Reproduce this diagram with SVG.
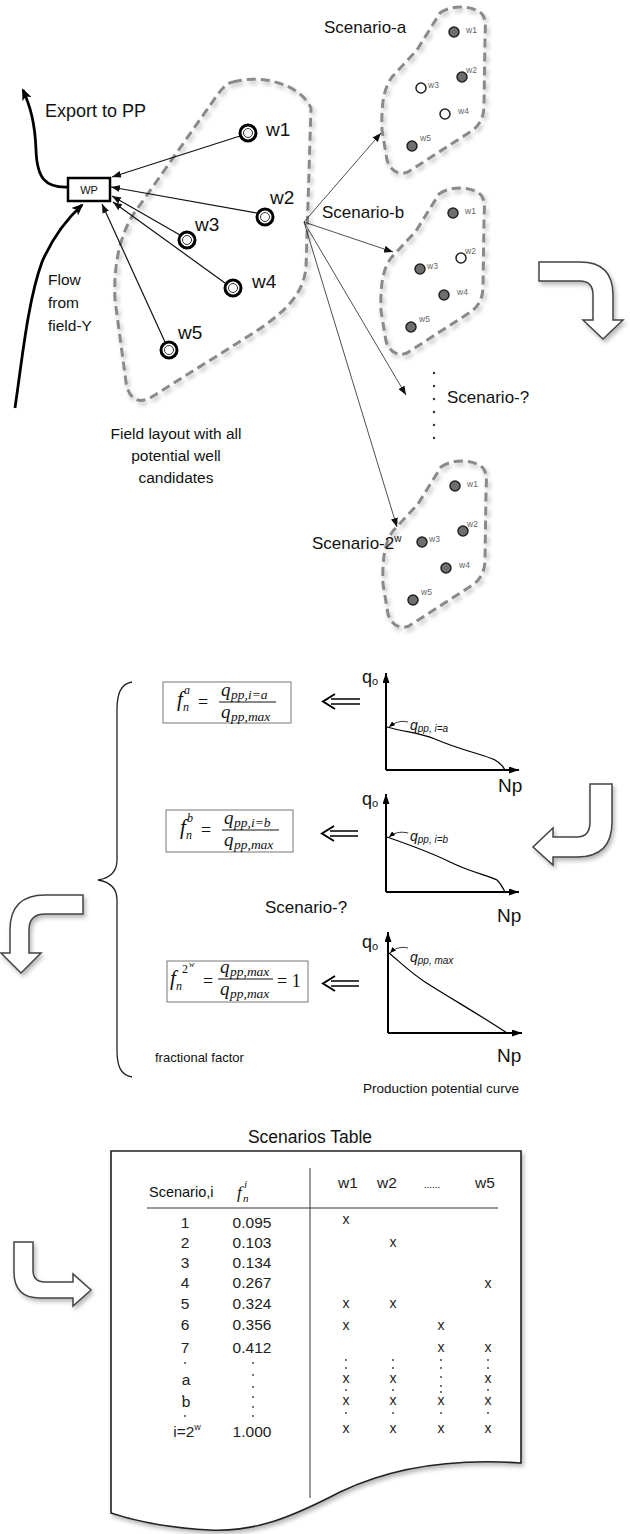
<svg xmlns="http://www.w3.org/2000/svg" width="630" height="1534" viewBox="0 0 630 1534">
<style>
.s{font-family:"Liberation Sans",Arial,sans-serif;fill:#111}
.m{font-family:"Liberation Serif","Times New Roman",serif;font-style:italic;fill:#111}
.r{font-family:"Liberation Serif","Times New Roman",serif;fill:#111}
.blob{fill:none;stroke:#8a8a8a;stroke-width:3;stroke-dasharray:9 5;filter:url(#sh)}
.wl{font-family:"Liberation Sans",Arial,sans-serif;font-size:8.5px;fill:#666}
.wf{fill:#6e6e6e;stroke:#222;stroke-width:1.5}
.wo{fill:#fff;stroke:#222;stroke-width:1.5}
.thin{fill:none;stroke:#222;stroke-width:0.8;marker-end:url(#ah)}
.wline{fill:none;stroke:#111;stroke-width:1.2;marker-end:url(#ah)}
.thick{fill:none;stroke:#000;stroke-width:2.8;marker-end:url(#ahk)}
.barr{fill:#fff;stroke:#444;stroke-width:1.5;filter:url(#sh)}
.fbox{fill:#fff;stroke:#777;stroke-width:1}
.ax{fill:none;stroke:#000;stroke-width:2;marker-end:url(#ax)}
.cv{fill:none;stroke:#000;stroke-width:1.2}
.ld{fill:none;stroke:#000;stroke-width:0.8;marker-end:url(#sm)}
.t{font-family:"Liberation Sans",Arial,sans-serif;font-size:15.5px;fill:#222;text-anchor:middle}
.x{font-family:"Liberation Sans",Arial,sans-serif;font-size:14px;fill:#222;text-anchor:middle}
.dot{fill:#333}
</style>
<defs>
<filter id="sh" x="-15%" y="-15%" width="140%" height="140%">
<feDropShadow dx="2" dy="3" stdDeviation="2" flood-color="#000" flood-opacity="0.28"/>
</filter>
<marker id="ah" markerUnits="userSpaceOnUse" markerWidth="9" markerHeight="7" refX="9" refY="3.5" orient="auto"><path d="M0,0 L9,3.5 L0,7 Z" fill="#111"/></marker>
<marker id="ahk" markerUnits="userSpaceOnUse" markerWidth="12" markerHeight="10" refX="10" refY="5" orient="auto"><path d="M0,0 L12,5 L0,10 L3,5 Z" fill="#000"/></marker>
<marker id="ax" markerUnits="userSpaceOnUse" markerWidth="10" markerHeight="7" refX="10" refY="3.5" orient="auto"><path d="M0,0 L10,3.5 L0,7 Z" fill="#000"/></marker>
<marker id="sm" markerUnits="userSpaceOnUse" markerWidth="6" markerHeight="5" refX="6" refY="2.5" orient="auto"><path d="M0,0 L6,2.5 L0,5 Z" fill="#000"/></marker>
<path id="sblob" d="M440,13 C448,6 472,4 482,14 C487,20 485,30 485,40 L484,108 C483,120 478,127 470,132 L408,172 C398,176 390,170 387,160 L382,130 C381,100 385,87 392,77 L417,50 Z"/>
</defs>

<g id="field">
<path class="blob" d="M233,82 C262,74 300,84 311,108 L306,268 C303,295 285,312 255,332 L150,398 C136,405 128,396 126,382 L115,300 C113,255 124,225 140,205 L218,94 C224,86 228,83 233,82 Z"/>
</g>

<g id="connectors">
<path class="thick" d="M68,187 C45,188 37,178 36,150 C35,122 30,106 23,90"/>
<path class="thick" d="M15,408 C22,360 28,300 42,262 C55,232 70,216 82,205"/>
<line class="wline" x1="240" y1="136" x2="112" y2="177"/>
<line class="wline" x1="257" y1="213" x2="111" y2="187"/>
<line class="wline" x1="180" y1="235" x2="112" y2="196"/>
<line class="wline" x1="225" y1="283" x2="113" y2="202"/>
<line class="wline" x1="165" y1="342" x2="102" y2="204"/>
<line class="thin" x1="304" y1="222" x2="381" y2="133"/>
<line class="thin" x1="304" y1="222" x2="393" y2="252"/>
<line class="thin" x1="304" y1="222" x2="406" y2="395"/>
<line class="thin" x1="304" y1="222" x2="397" y2="527"/>
</g>

<g id="WP">
<rect x="68" y="178" width="42" height="23" fill="#fff" stroke="#000" stroke-width="2.5"/>
<text class="s" x="89" y="194" font-size="11" text-anchor="middle">WP</text>
</g>

<g id="labels-top">
<text class="s" x="45" y="117" font-size="18">Export to PP</text>
<text class="s" x="48" y="285" font-size="15.5">Flow</text>
<text class="s" x="48" y="308" font-size="15.5">from</text>
<text class="s" x="48" y="331" font-size="15.5">field-Y</text>
<text class="s" x="176" y="439" font-size="15.5" text-anchor="middle">Field layout with all</text>
<text class="s" x="176" y="461" font-size="15.5" text-anchor="middle">potential well</text>
<text class="s" x="176" y="483" font-size="15.5" text-anchor="middle">candidates</text>
</g>

<g id="w1"><circle cx="248" cy="133" r="8" fill="#fff" stroke="#000" stroke-width="3"/><circle cx="248" cy="133" r="4.5" fill="#fff" stroke="#333" stroke-width="1"/><text class="s" x="266" y="136" font-size="19">w1</text></g>
<g id="w2"><circle cx="265" cy="217" r="8" fill="#fff" stroke="#000" stroke-width="3"/><circle cx="265" cy="217" r="4.5" fill="#fff" stroke="#333" stroke-width="1"/><text class="s" x="270" y="204" font-size="19">w2</text></g>
<g id="w3"><circle cx="187" cy="240" r="8" fill="#fff" stroke="#000" stroke-width="3"/><circle cx="187" cy="240" r="4.5" fill="#fff" stroke="#333" stroke-width="1"/><text class="s" x="195" y="231" font-size="19">w3</text></g>
<g id="w4"><circle cx="233" cy="288" r="8" fill="#fff" stroke="#000" stroke-width="3"/><circle cx="233" cy="288" r="4.5" fill="#fff" stroke="#333" stroke-width="1"/><text class="s" x="252" y="288" font-size="19">w4</text></g>
<g id="w5"><circle cx="169" cy="350" r="8" fill="#fff" stroke="#000" stroke-width="3"/><circle cx="169" cy="350" r="4.5" fill="#fff" stroke="#333" stroke-width="1"/><text class="s" x="178" y="339" font-size="19">w5</text></g>

<g id="scenario-a">
<use href="#sblob" class="blob"/>
<circle class="wf" cx="454" cy="32" r="5"/><text class="wl" x="466" y="33">w1</text>
<circle class="wf" cx="462" cy="77" r="5"/><text class="wl" x="466" y="73">w2</text>
<circle class="wo" cx="421" cy="88" r="5"/><text class="wl" x="428" y="88">w3</text>
<circle class="wo" cx="445" cy="114" r="5"/><text class="wl" x="458" y="114">w4</text>
<circle class="wf" cx="412" cy="146" r="5"/><text class="wl" x="420" y="141">w5</text>
<text class="s" x="324" y="33" font-size="17">Scenario-a</text>
</g>

<g id="scenario-b">
<g transform="translate(-1,181)">
<use href="#sblob" class="blob"/>
<circle class="wf" cx="454" cy="32" r="5"/><text class="wl" x="466" y="33">w1</text>
<circle class="wo" cx="462" cy="77" r="5"/><text class="wl" x="466" y="73">w2</text>
<circle class="wf" cx="421" cy="88" r="5"/><text class="wl" x="428" y="88">w3</text>
<circle class="wf" cx="445" cy="114" r="5"/><text class="wl" x="458" y="114">w4</text>
<circle class="wf" cx="412" cy="146" r="5"/><text class="wl" x="420" y="141">w5</text>
</g>
<text class="s" x="322" y="218" font-size="17">Scenario-b</text>
</g>

<g id="scenario-q">
<circle class="dot" cx="434" cy="373" r="1.2"/><circle class="dot" cx="434" cy="386" r="1.2"/><circle class="dot" cx="434" cy="399" r="1.2"/><circle class="dot" cx="434" cy="412" r="1.2"/><circle class="dot" cx="434" cy="425" r="1.2"/><circle class="dot" cx="434" cy="438" r="1.2"/>
<text class="s" x="447" y="403" font-size="17">Scenario-?</text>
</g>

<g id="scenario-2w">
<g transform="translate(1,454)">
<use href="#sblob" class="blob"/>
<circle class="wf" cx="454" cy="32" r="5"/><text class="wl" x="466" y="33">w1</text>
<circle class="wf" cx="462" cy="77" r="5"/><text class="wl" x="466" y="73">w2</text>
<circle class="wf" cx="421" cy="88" r="5"/><text class="wl" x="428" y="88">w3</text>
<circle class="wf" cx="445" cy="114" r="5"/><text class="wl" x="458" y="114">w4</text>
<circle class="wf" cx="412" cy="146" r="5"/><text class="wl" x="420" y="141">w5</text>
</g>
<text class="s" x="312" y="549" font-size="17">Scenario-2<tspan font-size="10" dy="-7">w</tspan></text>
</g>

<g id="arrow-1"><path class="barr" d="M539,262 L580,262 Q613,262 613,295 L613,320 L623,320 L603,339 L583,320 L593,320 L593,295 Q593,281 580,281 L539,281 Z"/></g>
<g id="arrow-2"><path class="barr" d="M590,784 L612,784 L612,822 Q612,857 577,857 L553,857 L553,865 L533,847 L553,828 L553,837 L577,837 Q590,837 590,822 Z"/></g>
<g id="arrow-3"><path class="barr" d="M83,895 L83,914 L45,914 Q29,914 29,930 L29,953 L41,953 L21,973 L1,953 L10,953 L10,930 Q10,895 45,895 Z"/></g>
<g id="arrow-4"><path class="barr" d="M14,1242 L33,1242 L33,1270 Q33,1282 45,1282 L73,1282 L73,1274 L91,1290 L73,1306 L73,1298 L40,1298 Q14,1298 14,1272 Z"/></g>

<g id="brace"><path d="M132,682 C120,684 117,695 117,710 L117,860 C117,872 110,878 98,880 C110,882 117,888 117,900 L117,1050 C117,1065 120,1075 132,1077" fill="none" stroke="#222" stroke-width="1.3"/></g>

<g id="formula-a">
<rect class="fbox" x="163" y="682" width="128" height="41"/>
<text class="m" x="177" y="706" font-size="21">f</text>
<text class="m" x="183" y="711" font-size="12">n</text>
<text class="m" x="184" y="694" font-size="12">a</text>
<text class="r" x="198" y="708" font-size="18">=</text>
<line x1="219" y1="702" x2="276" y2="702" stroke="#111" stroke-width="1"/>
<text class="m" x="221" y="696" font-size="19">q</text>
<text class="m" x="231" y="699" font-size="13.5">pp,i=a</text>
<text class="m" x="221" y="718" font-size="19">q</text>
<text class="m" x="231" y="721" font-size="13.5">pp,max</text>
</g>
<g id="formula-b">
<rect class="fbox" x="166" y="810" width="127" height="42"/>
<text class="m" x="180" y="834" font-size="21">f</text>
<text class="m" x="186" y="839" font-size="12">n</text>
<text class="m" x="187" y="822" font-size="12">b</text>
<text class="r" x="201" y="836" font-size="18">=</text>
<line x1="222" y1="830" x2="279" y2="830" stroke="#111" stroke-width="1"/>
<text class="m" x="224" y="824" font-size="19">q</text>
<text class="m" x="234" y="827" font-size="13.5">pp,i=b</text>
<text class="m" x="224" y="846" font-size="19">q</text>
<text class="m" x="234" y="849" font-size="13.5">pp,max</text>
</g>
<g id="formula-2w">
<rect class="fbox" x="167" y="961" width="141" height="41"/>
<text class="m" x="170" y="985" font-size="21">f</text>
<text class="m" x="176" y="990" font-size="12">n</text>
<text class="r" x="182" y="973" font-size="12">2</text>
<text class="m" x="189" y="967" font-size="8">w</text>
<text class="r" x="203" y="987" font-size="18">=</text>
<line x1="218" y1="979" x2="273" y2="979" stroke="#111" stroke-width="1"/>
<text class="m" x="220" y="973" font-size="19">q</text>
<text class="m" x="230" y="976" font-size="13.5">pp,max</text>
<text class="m" x="220" y="995" font-size="19">q</text>
<text class="m" x="230" y="998" font-size="13.5">pp,max</text>
<text class="r" x="277" y="987" font-size="18">= 1</text>
</g>

<g id="dbl-arrows" fill="none" stroke="#000" stroke-width="1.5">
<path d="M331,699 L360,699 M331,704 L360,704"/>
<path d="M335,694 L323,701.5 L335,709" stroke-width="2"/>
<path d="M330,831 L358,831 M330,836 L358,836"/>
<path d="M334,826 L322,833.5 L334,841" stroke-width="2"/>
<path d="M331,981 L359,981 M331,986 L359,986"/>
<path d="M335,976 L323,983.5 L335,991" stroke-width="2"/>
</g>

<g id="graph-a">
<path class="ax" d="M386,770 L386,673"/>
<path class="ax" d="M386,770 L519,770"/>
<path class="cv" d="M387,727 C405,732 420,733 435,739 C460,750 485,755 495,760 C500,763 503,766 505,770"/>
<path class="ld" d="M408,722 C400,720 394,723 389,727"/>
<text class="s" x="362" y="683" font-size="18">q<tspan font-size="11" dy="2">o</tspan></text>
<text class="s" x="410" y="730" font-size="14" font-style="italic">q<tspan font-size="10" dy="2">pp, i=a</tspan></text>
<text class="s" x="498" y="792" font-size="19">Np</text>
</g>
<g id="graph-b">
<path class="ax" d="M386,892 L386,794"/>
<path class="ax" d="M386,892 L519,892"/>
<path class="cv" d="M387,837 C410,845 430,852 450,862 C470,872 490,876 497,880 C501,884 503,888 505,892"/>
<path class="ld" d="M408,833 C400,831 394,833 389,837"/>
<text class="s" x="362" y="805" font-size="18">q<tspan font-size="11" dy="2">o</tspan></text>
<text class="s" x="410" y="841" font-size="14" font-style="italic">q<tspan font-size="10" dy="2">pp, i=b</tspan></text>
<text class="s" x="497" y="922" font-size="19">Np</text>
</g>
<g id="graph-max">
<path class="ax" d="M388,1033 L388,932"/>
<path class="ax" d="M388,1033 L522,1033"/>
<path class="cv" d="M389,953 C400,962 410,972 425,982 C450,998 480,1015 507,1033"/>
<path class="ld" d="M408,948 C400,946 394,949 390,953"/>
<text class="s" x="362" y="948" font-size="18">q<tspan font-size="11" dy="2">o</tspan></text>
<text class="s" x="410" y="962" font-size="14" font-style="italic">q<tspan font-size="10" dy="2">pp, max</tspan></text>
<text class="s" x="497" y="1062" font-size="19">Np</text>
</g>

<g id="labels-mid">
<text class="s" x="265" y="913" font-size="17">Scenario-?</text>
<text class="s" x="155" y="1062" font-size="13">fractional factor</text>
<text class="s" x="363" y="1093" font-size="13.5">Production potential curve</text>
</g>

<g id="table">
<text class="s" x="310" y="1143" font-size="17.5" text-anchor="middle">Scenarios Table</text>
<path d="M111,1151 L521,1151 L521,1463 C450,1458 390,1468 340,1492 C290,1518 255,1532 210,1530 C170,1528 135,1521 111,1513 Z" fill="#fff" stroke="#222" stroke-width="1.6" filter="url(#sh)"/>
<line x1="310" y1="1168" x2="310" y2="1498" stroke="#333" stroke-width="1"/>
<line x1="147" y1="1208" x2="498" y2="1208" stroke="#333" stroke-width="1"/>
<text class="s" x="149" y="1197" font-size="14.5" fill="#222">Scenario,i</text>
<text class="m" x="237" y="1198" font-size="17">f</text>
<text class="m" x="243" y="1202" font-size="11">n</text>
<text class="m" x="244" y="1188" font-size="11">i</text>
<text class="t" x="348" y="1188">w1</text>
<text class="t" x="387" y="1188">w2</text>
<text class="s" x="432" y="1188" font-size="10" text-anchor="middle">......</text>
<text class="t" x="485" y="1188">w5</text>
<text class="t" x="185" y="1228">1</text><text class="t" x="252" y="1228">0.095</text>
<text class="t" x="185" y="1248">2</text><text class="t" x="252" y="1248">0.103</text>
<text class="t" x="185" y="1268">3</text><text class="t" x="252" y="1268">0.134</text>
<text class="t" x="185" y="1288">4</text><text class="t" x="252" y="1288">0.267</text>
<text class="t" x="185" y="1309">5</text><text class="t" x="252" y="1309">0.324</text>
<text class="t" x="185" y="1330">6</text><text class="t" x="252" y="1330">0.356</text>
<text class="t" x="185" y="1353">7</text><text class="t" x="252" y="1353">0.412</text>
<text class="t" x="186" y="1385">a</text>
<text class="t" x="186" y="1407">b</text>
<text class="t" x="187" y="1437">i=2<tspan font-size="9" dy="-7">w</tspan></text>
<text class="t" x="252" y="1437">1.000</text>
<text class="x" x="346" y="1224">x</text>
<text class="x" x="393" y="1247">x</text>
<text class="x" x="488" y="1288">x</text>
<text class="x" x="346" y="1308">x</text><text class="x" x="393" y="1308">x</text>
<text class="x" x="346" y="1330">x</text><text class="x" x="441" y="1330">x</text>
<text class="x" x="441" y="1352">x</text><text class="x" x="488" y="1352">x</text>
<text class="x" x="346" y="1383">x</text><text class="x" x="393" y="1383">x</text><text class="x" x="488" y="1383">x</text>
<text class="x" x="346" y="1405">x</text><text class="x" x="393" y="1405">x</text><text class="x" x="441" y="1405">x</text><text class="x" x="488" y="1405">x</text>
<text class="x" x="346" y="1433">x</text><text class="x" x="393" y="1433">x</text><text class="x" x="441" y="1433">x</text><text class="x" x="488" y="1433">x</text>
<g class="dot">
<circle cx="185" cy="1363" r="0.9"/><circle cx="183" cy="1396" r="0.9"/><circle cx="185" cy="1416" r="0.9"/>
<circle cx="253" cy="1363" r="0.9"/><circle cx="253" cy="1375" r="0.9"/><circle cx="253" cy="1387" r="0.9"/><circle cx="253" cy="1397" r="0.9"/><circle cx="253" cy="1407" r="0.9"/><circle cx="253" cy="1416" r="0.9"/>
<circle cx="346" cy="1360" r="0.9"/><circle cx="346" cy="1368" r="0.9"/><circle cx="346" cy="1390" r="0.9"/><circle cx="346" cy="1413" r="0.9"/>
<circle cx="393" cy="1360" r="0.9"/><circle cx="393" cy="1368" r="0.9"/><circle cx="393" cy="1390" r="0.9"/><circle cx="393" cy="1413" r="0.9"/>
<circle cx="441" cy="1360" r="0.9"/><circle cx="441" cy="1368" r="0.9"/><circle cx="441" cy="1377" r="0.9"/><circle cx="441" cy="1386" r="0.9"/><circle cx="441" cy="1392" r="0.9"/><circle cx="441" cy="1413" r="0.9"/>
<circle cx="488" cy="1360" r="0.9"/><circle cx="488" cy="1368" r="0.9"/><circle cx="488" cy="1390" r="0.9"/><circle cx="488" cy="1413" r="0.9"/>
</g>
</g>
</svg>
